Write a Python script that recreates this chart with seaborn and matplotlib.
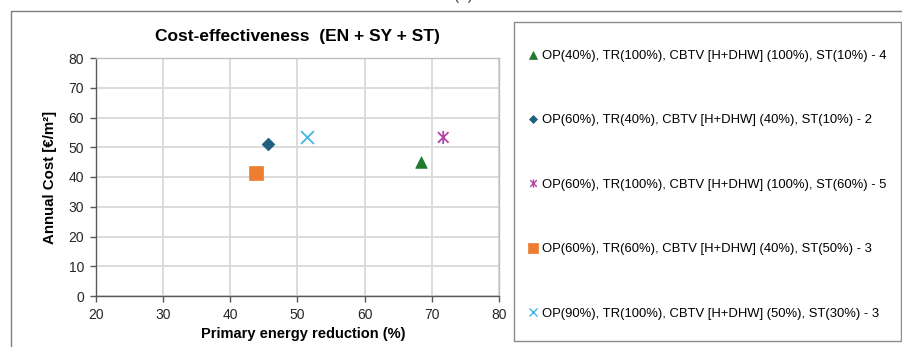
import numpy as np
import pandas as pd
import seaborn as sns
import matplotlib
matplotlib.use("Agg")
import matplotlib.pyplot as plt
from matplotlib.path import Path
from matplotlib.lines import Line2D
from matplotlib.patches import Rectangle

# ---- data ----
labels = [
    "OP(40%), TR(100%), CBTV [H+DHW] (100%), ST(10%) - 4",
    "OP(60%), TR(40%), CBTV [H+DHW] (40%), ST(10%) - 2",
    "OP(60%), TR(100%), CBTV [H+DHW] (100%), ST(60%) - 5",
    "OP(60%), TR(60%), CBTV [H+DHW] (40%), ST(50%) - 3",
    "OP(90%), TR(100%), CBTV [H+DHW] (50%), ST(30%) - 3",
]
energy_reduction = [68.4, 45.6, 71.7, 43.9, 51.5]
annual_cost = [45.0, 51.2, 53.3, 41.2, 53.5]
x_ticks = [20, 30, 40, 50, 60, 70, 80]
y_ticks = [0, 10, 20, 30, 40, 50, 60, 70, 80]

# ---- styles ----
colors = ["#1F7A2C", "#1F5E7E", "#B345A8", "#ED7D31", "#41B6E6"]
asterisk = Path(
    [(0, -1), (0, 1), (-0.8, -0.8), (0.8, 0.8), (-0.8, 0.8), (0.8, -0.8)],
    [Path.MOVETO, Path.LINETO, Path.MOVETO, Path.LINETO, Path.MOVETO, Path.LINETO],
)
markers = ["^", "D", asterisk, "s", "x"]
sizes = [70, 42, 90, 110, 85]

sns.set_theme(style="white")
plt.rcParams["font.family"] = ["Liberation Sans", "DejaVu Sans"]

W, H = 902, 347
fig = plt.figure(figsize=(W / 100, H / 100), dpi=100)
ax = fig.add_axes([95.7 / W, 1 - 296 / H, (499 - 95.7) / W, (296 - 58) / H])

df = pd.DataFrame({"x": energy_reduction, "y": annual_cost, "label": labels})
for i in range(len(df)):
    kw = dict(marker=markers[i], s=sizes[i], zorder=3, legend=False)
    if i in (0, 1, 3):
        kw.update(color=colors[i], edgecolor=colors[i], linewidth=0.5)
    elif i == 2:
        kw.update(color=colors[i], edgecolor=colors[i], facecolor="none", linewidth=1.3)
    else:
        kw.update(color=colors[i], linewidth=1.3)
    sns.scatterplot(data=df.iloc[[i]], x="x", y="y", ax=ax, **kw)

ax.set_xlim(20, 80)
ax.set_ylim(0, 80)
ax.set_xticks(x_ticks)
ax.set_yticks(y_ticks)
ax.grid(True, color="#D9D9D9", linewidth=1.3)
ax.set_axisbelow(True)
for s in ["top", "right"]:
    ax.spines[s].set_color("#BFBFBF")
    ax.spines[s].set_linewidth(1.0)
for s in ["left", "bottom"]:
    ax.spines[s].set_color("#595959")
    ax.spines[s].set_linewidth(1.0)
ax.tick_params(axis="both", which="major", direction="out", length=4, width=1,
               color="#595959", labelsize=10, labelcolor="#262626", pad=4.5,
               bottom=True, left=True)
ax.set_xlabel("Primary energy reduction (%)", fontsize=10.5, fontweight="bold",
              color="#000000", labelpad=2)
ax.xaxis.set_label_coords(0.515, -0.13)
ax.set_ylabel("Annual Cost [€/m²]", fontsize=10.8, fontweight="bold",
              color="#000000", labelpad=8)
ax.set_title("Cost-effectiveness  (EN + SY + ST)", fontsize=12.5, fontweight="bold",
             color="#000000", pad=12)

# outer frame lines
fig.add_artist(Line2D([11 / W, 11 / W], [0, 1 - 11 / H], transform=fig.transFigure,
                      color="#7F7F7F", linewidth=1.0))
fig.add_artist(Line2D([11 / W, 1], [1 - 11 / H, 1 - 11 / H], transform=fig.transFigure,
                      color="#7F7F7F", linewidth=1.0))
# legend box
fig.add_artist(Rectangle((514 / W, 1 - 341 / H), (901 - 514) / W, (341 - 22) / H,
                         transform=fig.transFigure, facecolor="white",
                         edgecolor="#8C8C8C", linewidth=1.0))

handles = []
leg_sizes = [6, 4.5, 6, 7, 6]
for i in range(len(labels)):
    if i in (0, 1, 3):
        h = Line2D([], [], linestyle="none", marker=markers[i], markersize=leg_sizes[i],
                   markerfacecolor=colors[i], markeredgecolor=colors[i], markeredgewidth=0.5)
    else:
        h = Line2D([], [], linestyle="none", marker=markers[i], markersize=leg_sizes[i],
                   markerfacecolor="none", markeredgecolor=colors[i], markeredgewidth=1.0)
    handles.append(h)

leg = fig.legend(handles, labels, loc="upper left",
                 bbox_to_anchor=(528 / W, 1 - 50 / H), frameon=False,
                 borderpad=0, borderaxespad=0, labelspacing=4.0,
                 handlelength=0.8, handletextpad=0.3, fontsize=9.4)
for t in leg.get_texts():
    t.set_color("#000000")

# partially visible panel label at the very top
fig.text(463 / W, 1.0, "(a)", ha="center", va="baseline", fontsize=11, color="#404040")

fig.savefig("out.png", dpi=100)
